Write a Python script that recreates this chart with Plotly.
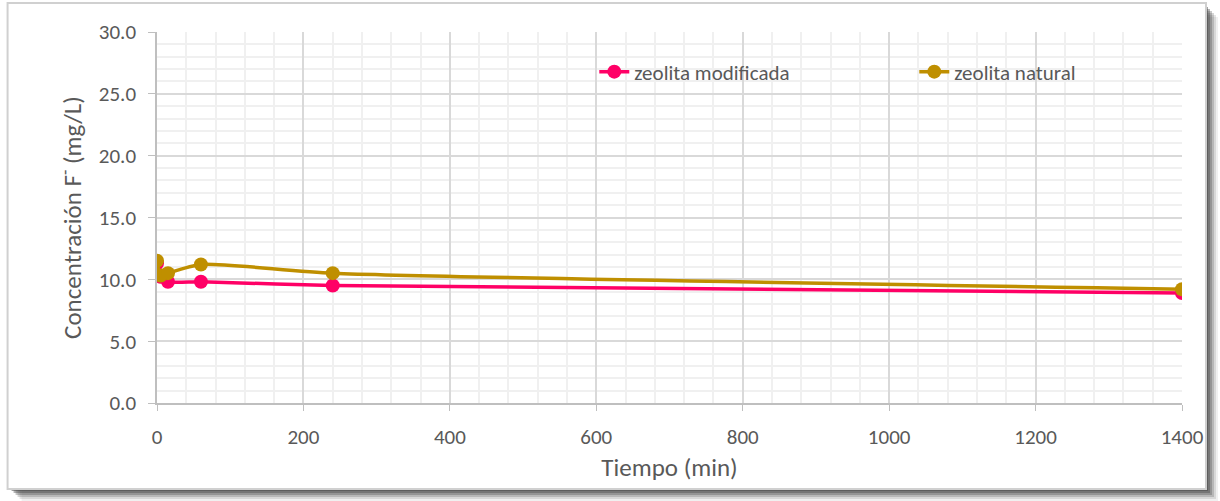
import plotly.graph_objects as go

# Tiempo de contacto (min) y concentración de fluoruro (mg/L)
tiempo = [0, 5, 15, 60, 240, 1400]
modificada = [11.3, 10.2, 9.8, 9.8, 9.5, 8.9]
natural = [11.5, 10.3, 10.5, 11.2, 10.5, 9.2]

x_ticks = [0, 200, 400, 600, 800, 1000, 1200, 1400]
y_ticks = [0, 5, 10, 15, 20, 25, 30]

PINK = "#FF0066"
GOLD = "#BF8F00"
TXT = "#595959"
FONT = "Carlito, Lato, 'Open Sans', sans-serif"

W, H = 1220, 501
L, R, T, B = 156.5, 38, 32, 98
pw, ph = W - L - R, H - T - B


def px(x):
    return (x - L) / pw


def py(y):
    return (H - B - y) / ph


fig = go.Figure()
fig.add_trace(go.Scatter(
    x=tiempo, y=modificada, name="zeolita modificada", mode="lines+markers",
    line=dict(color=PINK, width=3.5, shape="spline", smoothing=0.6),
    marker=dict(color=PINK, size=14),
))
fig.add_trace(go.Scatter(
    x=tiempo, y=natural, name="zeolita natural", mode="lines+markers",
    line=dict(color=GOLD, width=3.5, shape="spline", smoothing=0.6),
    marker=dict(color=GOLD, size=14),
))

# marco del gráfico con sombra a la derecha y abajo
shapes = []
for i, op in enumerate([0.08, 0.14, 0.22, 0.30, 0.40, 0.50]):
    off = 12 - 2 * i
    shapes.append(dict(
        type="rect", xref="paper", yref="paper", layer="below",
        x0=px(9 + off), x1=px(1206 + off), y0=py(489 + off), y1=py(5 + off),
        line=dict(width=0), fillcolor=f"rgba(70,70,70,{op})",
    ))
shapes.append(dict(
    type="rect", xref="paper", yref="paper", layer="below",
    x0=px(7), x1=px(1206), y0=py(489), y1=py(3),
    line=dict(color="#D0D0D0", width=2), fillcolor="white",
))

fig.update_layout(
    width=W, height=H,
    margin=dict(l=L, r=R, t=T, b=B, autoexpand=False),
    paper_bgcolor="white", plot_bgcolor="rgba(0,0,0,0)",
    font=dict(family=FONT, color=TXT, size=21),
    shapes=shapes,
    showlegend=True,
    legend=dict(
        orientation="h", x=px(594), y=py(72), xanchor="left", yanchor="middle",
        bgcolor="rgba(0,0,0,0)", font=dict(size=21, color=TXT),
        entrywidth=275, tracegroupgap=0,
    ),
    xaxis=dict(
        range=[0, 1400], tickvals=x_ticks, ticktext=[str(v) for v in x_ticks],
        showgrid=True, gridcolor="#D9D9D9", gridwidth=1.5,
        showline=True, linecolor="#BFBFBF", linewidth=1.5,
        ticks="outside", ticklen=6, tickcolor="#BFBFBF",
        ticklabelstandoff=8, zeroline=False,
        minor=dict(dtick=40, showgrid=True, gridcolor="#F0F0F0", gridwidth=2),
        title=dict(text="Tiempo (min)", font=dict(size=25, color=TXT), standoff=10),
    ),
    yaxis=dict(
        range=[0, 30], tickvals=y_ticks, ticktext=[f"{v:.1f}" for v in y_ticks],
        showgrid=True, gridcolor="#D9D9D9", gridwidth=1.5,
        showline=True, linecolor="#BFBFBF", linewidth=1.5,
        ticks="outside", ticklen=7, tickcolor="#BFBFBF",
        ticklabelstandoff=8, zeroline=False,
        minor=dict(dtick=1, showgrid=True, gridcolor="#F0F0F0", gridwidth=2),
        title=dict(text="Concentración F<sup>-</sup> (mg/L)", font=dict(size=25, color=TXT), standoff=10),
    ),
)

fig.write_html("out.html")
